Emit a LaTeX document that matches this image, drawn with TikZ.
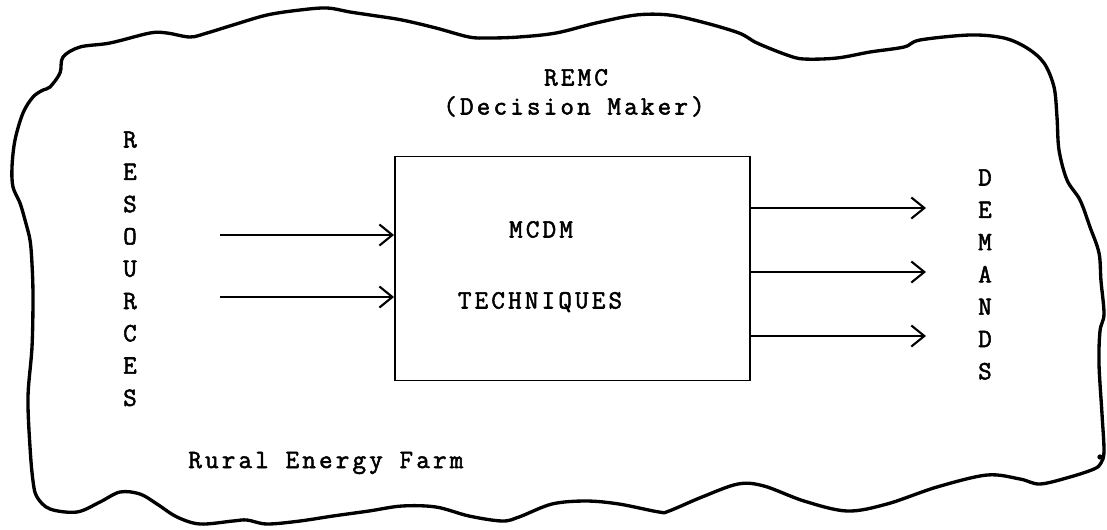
\documentclass[tikz,border=0pt]{standalone}
\usepackage{fontspec}
\newfontfamily\typer{Latin Modern Mono}[LetterSpace=12, FakeBold=2]
\usetikzlibrary{arrows.meta, positioning}

\begin{document}
\begin{tikzpicture}[x=0.02cm, y=-0.02cm,
  txt/.style={font=\typer\fontsize{15}{18}\selectfont, inner sep=0pt, anchor=base},
  flow/.style={line width=1.2pt, -{Straight Barb[length=7.4pt, width=12pt, line width=1.2pt]}}]
\useasboundingbox (0,0) rectangle (1107,529);
\draw[line width=1.9pt, line join=round] plot[smooth cycle, tension=0.55] coordinates {
  (63,57) (80,47) (110,43) (150,33) (167,33) (190,37) (207,33) (233,25) (267,15)
  (300,10) (327,8) (350,12) (370,15) (402,20) (436,28) (469,37) (489,38) (519,37)
  (556,33) (596,23) (636,15) (669,15) (702,22) (739,33) (757,43) (787,55) (804,59)
  (837,58) (870,52) (904,47) (920,40) (970,35) (1004,38) (1027,48) (1044,63)
  (1054,87) (1057,117) (1059,150) (1067,180) (1080,200) (1090,227) (1099,253)
  (1101,281) (1104,314) (1100,331) (1099,364) (1102,414) (1104,451) (1101,463)
  (1094,469) (1070,477) (1040,484) (1020,479) (987,475) (937,487) (887,504)
  (847,511) (804,501) (764,486) (738,484) (702,497) (669,511) (659,512) (619,504)
  (586,501) (552,504) (519,517) (502,521) (469,516) (436,507) (402,506) (369,511)
  (333,516) (300,521) (267,524) (247,520) (233,521) (200,524) (177,517) (157,504)
  (140,494) (120,492) (100,502) (77,512) (50,509) (37,497) (33,481) (30,447)
  (28,397) (32,347) (33,297) (32,264) (30,240) (25,220) (20,203) (13,187) (12,167)
  (15,140) (23,113) (33,97) (43,90) (50,87) (60,73)};
\fill (1100,457) circle (1.5pt);
\node[draw, line width=1.1pt, minimum width=7.1cm, minimum height=4.48cm,
  inner sep=0pt] (mcdm) at (572.5,268.5) {};
\node[txt] (remc) at (576,85.5) {REMC};
\node[txt] (maker) at (574,114.5) {(Decision Maker)};
\node[txt] (upper) at (541,237.5) {MCDM};
\node[txt] (lower) at (540,308.5) {TECHNIQUES};
\node[txt, anchor=base west] (farm) at (188,468) {Rural Energy Farm};
\foreach \c [count=\i] in {R,E,S,O,U,R,C,E,S}
  \node[txt] (res\i) at (130,115.2+32.3*\i) {\c};
\foreach \c [count=\i] in {D,E,M,A,N,D,S}
  \node[txt] (dem\i) at (985,153.2+32.3*\i) {\c};
\foreach \y [count=\i] in {235,297}{
  \coordinate (src\i) at (220,\y);
  \draw[flow] (src\i) -- (src\i -| mcdm.west);
}
\foreach \y [count=\i] in {208,272,336}{
  \coordinate (dst\i) at (926,\y);
  \draw[flow] (mcdm.east |- dst\i) -- (dst\i);
}
\end{tikzpicture}
\end{document}
